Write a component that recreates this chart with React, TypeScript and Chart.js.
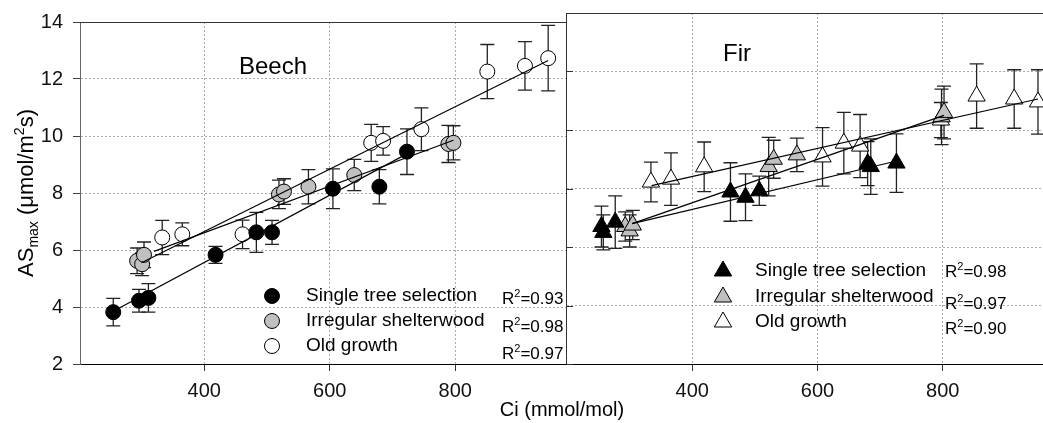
import React, { useEffect, useRef } from 'react';
import { Chart, registerables } from 'chart.js';
Chart.register(...registerables);

const FONT = "'Liberation Sans', Arial, Helvetica, sans-serif";

// ---- shared ----
const xTickValues = [400, 600, 800];
const yTickValues = [2, 4, 6, 8, 10, 12, 14];
const legendLabels = ['Single tree selection', 'Irregular shelterwood', 'Old growth'];
const fills = ['#000000', '#c0c0c0', '#ffffff'];
const beechR2 = ['0.93', '0.98', '0.97'];
const firR2 = ['0.98', '0.97', '0.90'];

// ---- Beech ----
const beechSingleX = [255, 296, 311, 418, 483, 508, 605, 679, 723];
const beechSingleY = [3.82, 4.22, 4.32, 5.83, 6.62, 6.62, 8.15, 8.22, 9.45];
const beechSingleErr = [0.48, 0.4, 0.5, 0.3, 0.7, 0.42, 0.7, 0.6, 0.8];
const beechIrrX = [293, 301, 304, 519, 527, 566, 639, 789, 797];
const beechIrrY = [5.62, 5.5, 5.83, 7.95, 8.05, 8.22, 8.63, 9.72, 9.76];
const beechIrrErr = [0.45, 0.4, 0.45, 0.5, 0.45, 0.6, 0.55, 0.65, 0.6];
const beechOldX = [333, 365, 461, 666, 685, 746, 851, 911, 948];
const beechOldY = [6.44, 6.55, 6.55, 9.76, 9.83, 10.24, 12.26, 12.46, 12.73];
const beechOldErr = [0.6, 0.4, 0.5, 0.65, 0.5, 0.75, 0.95, 0.85, 1.15];
const beechFitSingleX = [255, 725];
const beechFitSingleY = [3.85, 9.4];
const beechFitIrrX = [320, 797];
const beechFitIrrY = [5.95, 9.85];
const beechFitOldX = [300, 948];
const beechFitOldY = [5.55, 12.65];

// ---- Fir ----
const firSingleX = [255, 258, 277, 461, 485, 507, 680, 685, 726];
const firSingleY = [6.7, 6.5, 6.85, 7.88, 7.7, 7.92, 8.85, 8.75, 8.87];
const firSingleErr = [0.7, 0.6, 0.9, 1.0, 0.8, 0.5, 0.75, 0.95, 1.0];
const firIrrX = [293, 300, 305, 522, 530, 567, 798, 802];
const firIrrY = [6.7, 6.55, 6.75, 8.75, 9.0, 9.15, 10.45, 10.6];
const firIrrErr = [0.5, 0.55, 0.5, 1.0, 0.65, 0.57, 0.95, 0.9];
const firOldX = [334, 366, 419, 608, 642, 668, 797, 854, 914, 952];
const firOldY = [8.22, 8.32, 8.74, 9.08, 9.55, 9.45, 10.34, 11.16, 11.06, 10.96];
const firOldErr = [0.68, 0.9, 0.85, 1.0, 1.05, 1.08, 0.6, 1.1, 1.0, 1.1];
const firFitSingleX = [304, 728];
const firFitSingleY = [6.8, 8.95];
const firFitIrrX = [304, 802];
const firFitIrrY = [6.8, 10.5];
const firFitOldX = [335, 952];
const firFitOldY = [8.1, 11.06];

function pts(xs: number[], ys: number[]) {
  return xs.map((x, i) => ({ x, y: ys[i] }));
}

type Seg = { t: string; s: number; dy?: number };

function drawRich(ctx: CanvasRenderingContext2D, segs: Seg[], x: number, y: number, center: boolean) {
  let total = 0;
  const widths = segs.map((g) => {
    ctx.font = `${g.s}px ${FONT}`;
    const w = ctx.measureText(g.t).width;
    total += w;
    return w;
  });
  let cx = center ? x - total / 2 : x;
  ctx.textAlign = 'left';
  ctx.textBaseline = 'alphabetic';
  segs.forEach((g, i) => {
    ctx.font = `${g.s}px ${FONT}`;
    ctx.fillText(g.t, cx, y + (g.dy || 0));
    cx += widths[i];
  });
}

function drawMarker(ctx: CanvasRenderingContext2D, shape: string, fill: string, x: number, y: number, r: number) {
  ctx.beginPath();
  if (shape === 'circle') {
    ctx.arc(x, y, r, 0, Math.PI * 2);
  } else {
    let rad = 0;
    ctx.moveTo(x + Math.sin(rad) * r, y - Math.cos(rad) * r);
    rad += (2 * Math.PI) / 3;
    ctx.lineTo(x + Math.sin(rad) * r, y - Math.cos(rad) * r);
    rad += (2 * Math.PI) / 3;
    ctx.lineTo(x + Math.sin(rad) * r, y - Math.cos(rad) * r);
    ctx.closePath();
  }
  ctx.fillStyle = fill;
  ctx.fill();
  ctx.lineWidth = 1;
  ctx.strokeStyle = '#000';
  ctx.stroke();
}

const errorBarPlugin = {
  id: 'errorBars',
  beforeDatasetsDraw(chart: any, _a: any, opts: any) {
    const { ctx } = chart;
    const xs = chart.scales.x;
    const ys = chart.scales.y;
    const half = opts.cap || 7;
    ctx.save();
    ctx.strokeStyle = '#222';
    ctx.lineWidth = 1.3;
    chart.data.datasets.forEach((ds: any) => {
      if (!ds.errors) return;
      ds.data.forEach((p: any, i: number) => {
        const e = ds.errors[i];
        const px = xs.getPixelForValue(p.x);
        const top = ys.getPixelForValue(p.y + e);
        const bot = ys.getPixelForValue(p.y - e);
        ctx.beginPath();
        ctx.moveTo(px, top);
        ctx.lineTo(px, bot);
        ctx.moveTo(px - half, top);
        ctx.lineTo(px + half, top);
        ctx.moveTo(px - half, bot);
        ctx.lineTo(px + half, bot);
        ctx.stroke();
      });
    });
    ctx.restore();
  },
};

const decorPlugin = {
  id: 'decor',
  afterDatasetsDraw(chart: any, _a: any, o: any) {
    const { ctx, chartArea: ca } = chart;
    ctx.save();
    // frame
    ctx.strokeStyle = '#333';
    ctx.lineWidth = 1;
    ctx.beginPath();
    ctx.moveTo(ca.left, Math.round(ca.top) + 0.5);
    ctx.lineTo(ca.right, Math.round(ca.top) + 0.5);
    if (o.rightBorder) {
      ctx.moveTo(Math.round(ca.right) - 0.5, ca.top);
      ctx.lineTo(Math.round(ca.right) - 0.5, ca.bottom);
    }
    if (o.leftBorder) {
      ctx.moveTo(Math.round(ca.left) - 0.5, ca.top);
      ctx.lineTo(Math.round(ca.left) - 0.5, ca.bottom);
    }
    ctx.stroke();
    if (o.innerTicks) {
      ctx.strokeStyle = '#333';
      ctx.beginPath();
      yTickValues.forEach((v) => {
        const py = Math.round(chart.scales.y.getPixelForValue(v)) + 0.5;
        ctx.moveTo(ca.left, py);
        ctx.lineTo(ca.left + 6, py);
      });
      ctx.stroke();
    }
    // panel title
    ctx.fillStyle = '#000';
    ctx.font = `24px ${FONT}`;
    ctx.textAlign = 'center';
    ctx.textBaseline = 'middle';
    ctx.fillText(o.title, ca.left + o.titleX, ca.top + o.titleY);
    // legend
    legendLabels.forEach((lab, i) => {
      drawMarker(ctx, o.shape, fills[i], ca.left + o.markerX, ca.top + o.rowY[i], o.markerR);
      ctx.fillStyle = '#000';
      ctx.font = `19px ${FONT}`;
      ctx.textAlign = 'left';
      ctx.textBaseline = 'middle';
      ctx.fillText(lab, ca.left + o.textX, ca.top + o.rowY[i]);
    });
    // R2 labels
    ctx.fillStyle = '#000';
    o.r2.forEach((v: string, i: number) => {
      drawRich(
        ctx,
        [
          { t: 'R', s: 17 },
          { t: '2', s: 11, dy: -7 },
          { t: '=' + v, s: 17 },
        ],
        ca.left + o.r2X,
        ca.top + o.r2Y[i] + 6,
        false
      );
    });
    // y-axis title
    if (o.yTitle) {
      ctx.save();
      ctx.translate(25, (ca.top + ca.bottom) / 2);
      ctx.rotate(-Math.PI / 2);
      drawRich(
        ctx,
        [
          { t: 'AS', s: 22 },
          { t: 'max', s: 14, dy: 5 },
          { t: ' (\u03bcmol/m', s: 22 },
          { t: '2', s: 14, dy: -9 },
          { t: 's)', s: 22 },
        ],
        0,
        8,
        true
      );
      ctx.restore();
    }
    if (o.xTitle) {
      ctx.font = `20px ${FONT}`;
      ctx.textAlign = 'center';
      ctx.textBaseline = 'middle';
      ctx.fillText(o.xTitle, 562, 410);
    }
    ctx.restore();
  },
};

function makeConfig(side: 'left' | 'right'): any {
  const isLeft = side === 'left';
  const shape = isLeft ? 'circle' : 'triangle';
  const r = isLeft ? 7.5 : 10;
  const sx = isLeft ? [beechSingleX, beechIrrX, beechOldX] : [firSingleX, firIrrX, firOldX];
  const sy = isLeft ? [beechSingleY, beechIrrY, beechOldY] : [firSingleY, firIrrY, firOldY];
  const se = isLeft ? [beechSingleErr, beechIrrErr, beechOldErr] : [firSingleErr, firIrrErr, firOldErr];
  const fx = isLeft ? [beechFitSingleX, beechFitIrrX, beechFitOldX] : [firFitSingleX, firFitIrrX, firFitOldX];
  const fy = isLeft ? [beechFitSingleY, beechFitIrrY, beechFitOldY] : [firFitSingleY, firFitIrrY, firFitOldY];

  const datasets: any[] = [];
  for (let i = 0; i < 3; i++) {
    datasets.push({
      label: legendLabels[i],
      data: pts(sx[i], sy[i]),
      errors: se[i],
      pointStyle: shape,
      pointRadius: r,
      backgroundColor: fills[i],
      borderColor: '#000',
      borderWidth: 1,
      order: 1,
    });
  }
  for (let i = 0; i < 3; i++) {
    datasets.push({
      label: 'fit ' + legendLabels[i],
      data: pts(fx[i], fy[i]),
      showLine: true,
      pointRadius: 0,
      borderColor: '#000',
      borderWidth: 1.2,
      fill: false,
      order: 0,
    });
  }

  const tickFont = { family: FONT, size: 20 };
  return {
    type: 'scatter',
    data: { datasets },
    plugins: [errorBarPlugin, decorPlugin],
    options: {
      responsive: false,
      animation: false,
      devicePixelRatio: 1,
      events: [],
      layout: {
        autoPadding: false,
        padding: isLeft ? { left: 0, right: 73, top: 13, bottom: 0 } : { left: 7, right: 0, top: 13, bottom: 0 },
      },
      scales: {
        x: {
          type: 'linear',
          min: isLeft ? 202 : 200,
          max: isLeft ? 978 : 960,
          afterBuildTicks: (s: any) => {
            s.ticks = xTickValues.map((v) => ({ value: v }));
          },
          afterFit: (s: any) => {
            s.height = 59;
          },
          ticks: { font: tickFont, color: '#111', padding: 8, maxRotation: 0, autoSkip: false, callback: (v: any) => String(v) },
          grid: { color: '#aaa', tickColor: '#333', tickLength: 7, lineWidth: 1 },
          border: { color: '#000', width: 1, dash: [2, 2] },
        },
        y: {
          type: 'linear',
          min: 2,
          max: 14,
          afterBuildTicks: (s: any) => {
            s.ticks = yTickValues.map((v) => ({ value: v }));
          },
          afterFit: (s: any) => {
            s.width = isLeft ? 80 : 0;
          },
          ticks: { display: isLeft, font: tickFont, color: '#111', padding: 10, callback: (v: any) => String(v) },
          grid: { color: '#aaa', tickColor: '#444', tickLength: 7, drawTicks: isLeft, lineWidth: 1 },
          border: { display: isLeft, color: '#666', width: 1, dash: [2, 2] },
        },
      },
      plugins: {
        legend: { display: false },
        tooltip: { enabled: false },
        title: { display: false },
        errorBars: { cap: 7 },
        decor: isLeft
          ? {
              title: 'Beech',
              titleX: 193,
              titleY: 45,
              shape,
              markerR: 7.5,
              markerX: 192,
              textX: 226,
              rowY: [274, 299, 324],
              r2: beechR2,
              r2X: 422,
              r2Y: [276, 304, 331],
              rightBorder: true,
              yTitle: true,
              xTitle: 'Ci (mmol/mol)',
            }
          : {
              title: 'Fir',
              titleX: 170,
              titleY: 41,
              shape,
              markerR: 10,
              markerX: 156,
              textX: 188,
              rowY: [258, 284, 309],
              r2: firR2,
              r2X: 378,
              r2Y: [258, 290, 315],
              innerTicks: true,
              leftBorder: true,
            },
      },
    },
  };
}

export default function App() {
  const leftRef = useRef<HTMLCanvasElement>(null);
  const rightRef = useRef<HTMLCanvasElement>(null);
  useEffect(() => {
    const c1 = new Chart(leftRef.current as HTMLCanvasElement, makeConfig('left'));
    const c2 = new Chart(rightRef.current as HTMLCanvasElement, makeConfig('right'));
    return () => {
      c1.destroy();
      c2.destroy();
    };
  }, []);
  return (
    <div style={{ position: 'absolute', left: 0, top: 0, width: 1043, height: 423, background: '#fff', overflow: 'hidden' }}>
      <canvas ref={leftRef} width={640} height={423} style={{ position: 'absolute', left: 0, top: 0 }} />
      <canvas ref={rightRef} width={483} height={423} style={{ position: 'absolute', left: 560, top: 0 }} />
    </div>
  );
}
